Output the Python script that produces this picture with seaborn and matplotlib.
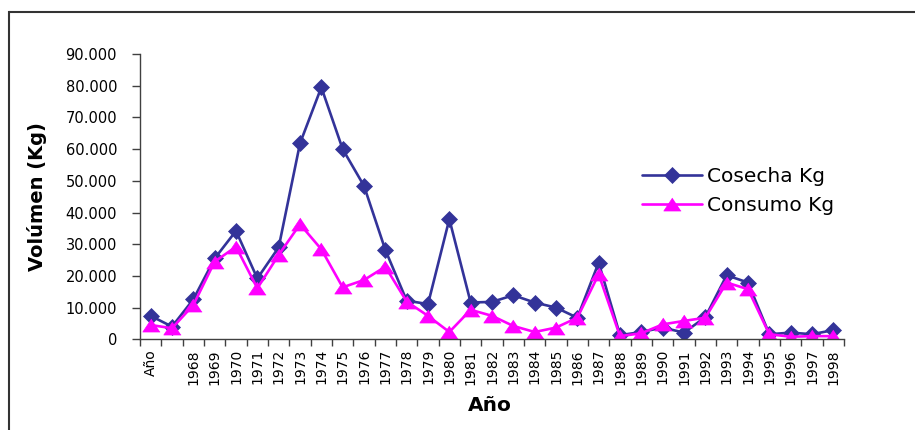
import numpy as np
import pandas as pd
import matplotlib
matplotlib.use("Agg")
import matplotlib.pyplot as plt
from matplotlib.lines import Line2D
from matplotlib.ticker import FuncFormatter
import seaborn as sns

# Categorías del eje X (la segunda posición no lleva rótulo)
anios = ["Año", "", "1968", "1969", "1970", "1971", "1972", "1973", "1974",
         "1975", "1976", "1977", "1978", "1979", "1980", "1981", "1982",
         "1983", "1984", "1985", "1986", "1987", "1988", "1989", "1990",
         "1991", "1992", "1993", "1994", "1995", "1996", "1997", "1998"]

# Volúmenes en kg
cosecha_kg = [7400, 4000, 12600, 25500, 34200, 19200, 29000, 61800, 79500,
              60000, 48400, 28200, 12200, 11100, 37900, 11600, 11800,
              13900, 11600, 10000, 6800, 24200, 1300, 2300, 3700,
              2100, 7000, 20200, 17900, 1600, 2100, 1600, 2900]
consumo_kg = [4500, 3500, 10800, 24500, 29200, 16100, 26600, 36300, 28400,
              16400, 18700, 22900, 11900, 7400, 2300, 9300, 7400,
              4200, 2300, 3700, 6800, 20500, 1000, 1900, 4700,
              5800, 6800, 17900, 15800, 1600, 800, 1000, 1000]

series = ["Cosecha Kg", "Consumo Kg"]
colores = ["#333399", "#FF00FF"]

sns.set_theme(style="ticks")
plt.rcParams["font.family"] = ["DejaVu Sans"]
plt.rcParams["text.color"] = "black"
plt.rcParams["axes.labelcolor"] = "black"

pos = np.arange(len(anios))
df = pd.DataFrame({
    "pos": np.concatenate([pos, pos]),
    "valor": cosecha_kg + consumo_kg,
    "serie": [series[0]] * len(anios) + [series[1]] * len(anios),
})

W, H = 915, 430
fig = plt.figure(figsize=(W / 100, H / 100), dpi=100)
fig.patch.set_facecolor("white")
ax = fig.add_axes([140 / W, (H - 339.3) / H, 704 / W, 285.3 / H])

triangulo = [(0, 0.75), (-1, -0.75), (1, -0.75)]
marcadores = {series[0]: "D", series[1]: triangulo}
tamanos = {colores[0]: 8.5, colores[1]: 12.5}

sns.lineplot(data=df, x="pos", y="valor", hue="serie", style="serie",
             hue_order=series, style_order=series, palette=colores,
             markers=marcadores, dashes=False, linewidth=1.9,
             legend=False, ax=ax)

for ln in ax.lines:
    c = matplotlib.colors.to_hex(ln.get_color()).lower()
    for col, ms in tamanos.items():
        if c == col.lower():
            ln.set_markersize(ms)
    ln.set_markeredgecolor(ln.get_color())
    ln.set_markeredgewidth(0.5)

ax.set_xlim(-0.5, len(anios) - 0.5)
ax.set_ylim(0, 90000)
ax.set_yticks(np.arange(0, 90001, 10000))
ax.yaxis.set_major_formatter(
    FuncFormatter(lambda v, p: f"{int(v):,}".replace(",", ".")))

ax.set_xticks(pos)
ax.set_xticklabels(anios, rotation=90, fontsize=10)
ax.set_xticks(np.arange(-0.5, len(anios), 1), minor=True)
ax.tick_params(axis="x", which="major", length=0, pad=7, labelcolor="black")
ax.tick_params(axis="x", which="minor", length=5, width=1,
               direction="out", color="#404040")
ax.tick_params(axis="y", which="major", length=5.5, width=1,
               direction="out", color="#404040", pad=11,
               labelsize=10.5, labelcolor="black")

sns.despine(ax=ax)
for s in ("left", "bottom"):
    ax.spines[s].set_color("#404040")
    ax.spines[s].set_linewidth(1.0)

ax.set_xlabel("Año", fontsize=14.5, fontweight="bold")
ax.set_ylabel("Volúmen (Kg)", fontsize=14, fontweight="bold")
ax.xaxis.set_label_coords(0.497, -0.2)
ax.yaxis.set_label_coords(-0.132, 0.5)

handles = [
    Line2D([], [], color=colores[0], lw=1.9, marker="D", ms=8.5,
           mec=colores[0], mew=0.5),
    Line2D([], [], color=colores[1], lw=1.9, marker=triangulo, ms=12.5,
           mec=colores[1], mew=0.5),
]
fig.legend(handles, series, loc="upper left",
           bbox_to_anchor=(642 / W, 1 - 167 / H), frameon=False,
           fontsize=14.5, handlelength=3.0, handletextpad=0.25,
           labelspacing=0.5, borderpad=0, borderaxespad=0)

# Marco exterior: borde superior e izquierdo
fig.add_artist(Line2D([9 / W, 1.01], [1 - 12 / H, 1 - 12 / H],
                      transform=fig.transFigure, color="#333333", lw=1.5,
                      solid_capstyle="butt", clip_on=False))
fig.add_artist(Line2D([9 / W, 9 / W], [-0.01, 1 - 12 / H],
                      transform=fig.transFigure, color="#333333", lw=1.5,
                      solid_capstyle="projecting", clip_on=False))

fig.savefig("out.png", dpi=100)
